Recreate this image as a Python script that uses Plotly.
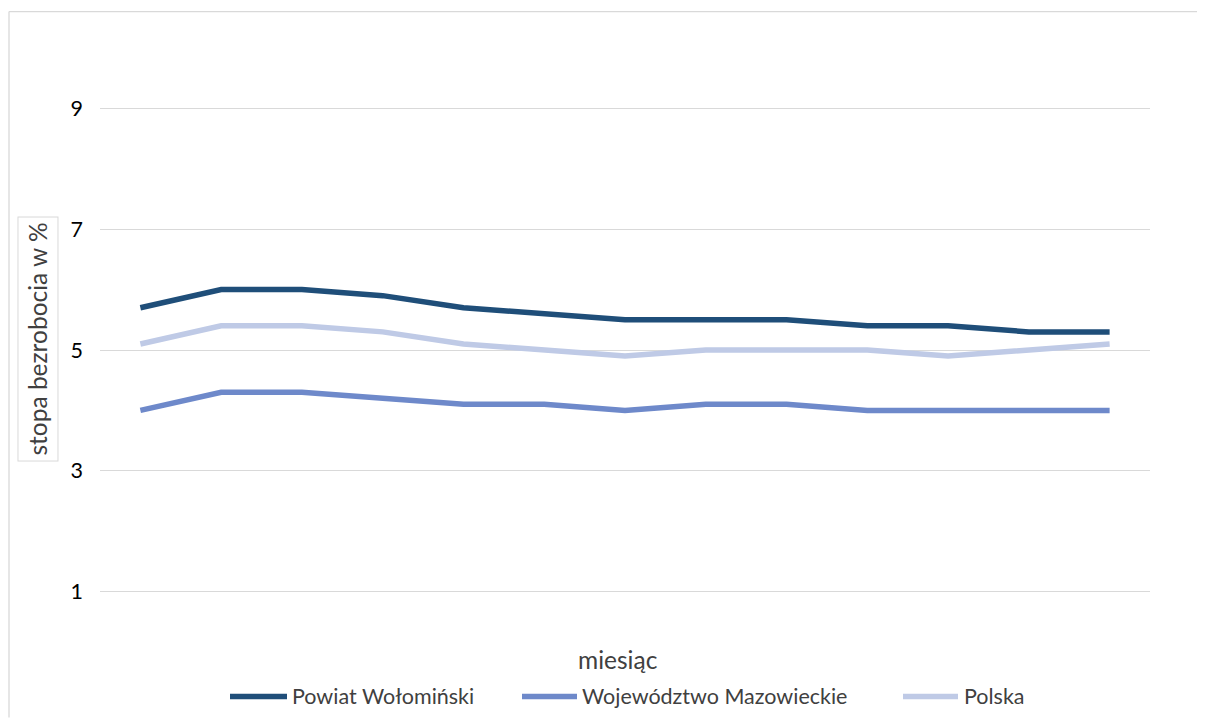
import plotly.graph_objects as go

months = list(range(1, 14))
series_names = ["Powiat Wołomiński", "Województwo Mazowieckie", "Polska"]
powiat = [5.7, 6.0, 6.0, 5.9, 5.7, 5.6, 5.5, 5.5, 5.5, 5.4, 5.4, 5.3, 5.3]
mazowieckie = [4.0, 4.3, 4.3, 4.2, 4.1, 4.1, 4.0, 4.1, 4.1, 4.0, 4.0, 4.0, 4.0]
polska = [5.1, 5.4, 5.4, 5.3, 5.1, 5.0, 4.9, 5.0, 5.0, 5.0, 4.9, 5.0, 5.1]
y_ticks = [1, 3, 5, 7, 9]
colors = ["#1F4E79", "#6E89CA", "#BFCAE6"]

OFF = 8  # page body margin
W, H = 1205 - OFF, 718 - OFF
L, T = 100 - OFF, 47.5 - OFF
R = W - (1150 - OFF)
B = H - (652.5 - OFF)
pw, ph = W - L - R, H - T - B


def px_x(p):
    return (p - OFF - L) / pw


def px_y(p):
    return (H - B - (p - OFF)) / ph


FONT = "Lato, Carlito, Calibri, sans-serif"

fig = go.Figure()
for name, vals, col in zip(series_names, [powiat, mazowieckie, polska], colors):
    fig.add_trace(go.Scatter(x=months, y=vals, name=name, mode="lines",
                             line=dict(color=col, width=5.5), showlegend=False))

fig.update_layout(
    width=W, height=H,
    margin=dict(l=L, r=R, t=T, b=B, pad=0),
    paper_bgcolor="white", plot_bgcolor="white",
    font=dict(family=FONT, size=21.5, color="#000000"),
    xaxis=dict(range=[0.5, 13.5], showticklabels=False, showgrid=False,
               zeroline=False, showline=False, ticks=""),
    yaxis=dict(range=[0, 10], tickvals=y_ticks, showgrid=True,
               gridcolor="#D9D9D9", gridwidth=1.3, zeroline=False, showline=False,
               ticks="", ticklabelstandoff=16,
               tickfont=dict(family=FONT, size=21.5, color="#000000")),
)

# outer chart border (top and left edges visible in the frame)
fig.add_shape(type="line", xref="paper", yref="paper",
              x0=px_x(9), x1=px_x(1205), y0=px_y(11), y1=px_y(11),
              line=dict(color="#D9D9D9", width=1.3), layer="below")
fig.add_shape(type="line", xref="paper", yref="paper",
              x0=px_x(9), x1=px_x(9), y0=px_y(11), y1=px_y(718),
              line=dict(color="#D9D9D9", width=1.3), layer="below")

# y-axis title in a box
fig.add_annotation(xref="paper", yref="paper", x=px_x(37.5), y=px_y(339),
                   text="stopa bezrobocia w %", textangle=-90, showarrow=False,
                   font=dict(family=FONT, size=24.5, color="#404040"),
                   bordercolor="#D9D9D9", borderwidth=1, borderpad=5,
                   bgcolor="white", xanchor="center", yanchor="middle")

# x-axis title
fig.add_annotation(xref="paper", yref="paper", x=px_x(618), y=px_y(660),
                   text="miesiąc", showarrow=False,
                   font=dict(family=FONT, size=24.5, color="#404040"),
                   xanchor="center", yanchor="middle")

# legend (custom)
leg_y = 697
leg_items = [(230, 287, 290), (522, 577, 580), (903, 958, 962)]
for (x0, x1, tx), name, col in zip(leg_items, series_names, colors):
    fig.add_shape(type="line", xref="paper", yref="paper",
                  x0=px_x(x0), x1=px_x(x1), y0=px_y(leg_y), y1=px_y(leg_y),
                  line=dict(color=col, width=5.5))
    fig.add_annotation(xref="paper", yref="paper", x=px_x(tx), y=px_y(leg_y),
                       text=name, showarrow=False, xanchor="left", yanchor="middle",
                       font=dict(family=FONT, size=21.5, color="#404040"))

fig.write_html("out.html")
